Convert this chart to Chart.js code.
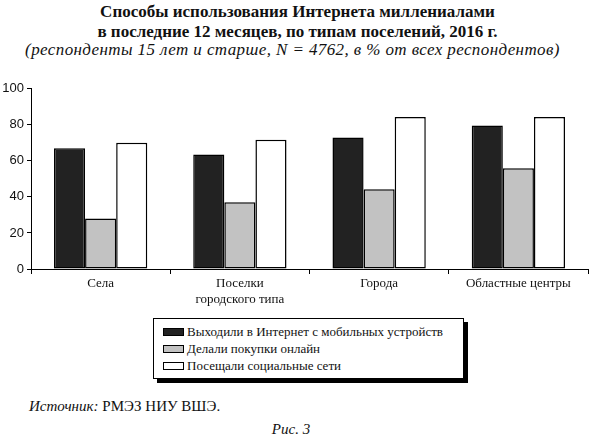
<!DOCTYPE html>
<html>
<head>
<meta charset="utf-8">
<script src="https://cdn.jsdelivr.net/npm/chart.js@4/dist/chart.umd.min.js"></script>
<style>
  html, body { margin: 0; padding: 0; background: #fff; }
  body { width: 595px; height: 446px; position: relative; overflow: hidden; font-family: "Liberation Serif", "DejaVu Serif", serif; color: #111; }
  .title { position: absolute; left: 0; top: 2px; width: 595px; text-align: center; font-weight: bold; font-size: 17px; line-height: 20px; }
  .subtitle { position: absolute; left: 0; top: 40px; width: 585px; text-align: center; font-style: italic; font-size: 17px; line-height: 20px; letter-spacing: 0.4px; }
  .chart-wrap { position: absolute; left: 0; top: 78px; width: 595px; height: 232px; }
  .legend { position: absolute; left: 153px; top: 318px; width: 311px; height: 61px; border: 1.5px solid #000; background: #fff; box-shadow: 4px 4px 0 #000; box-sizing: border-box; padding: 4px 0 0 9px; font-size: 13px; white-space: nowrap; }
  .legend-item { display: flex; align-items: center; height: 17px; }
  .legend-swatch { width: 19px; height: 6px; border: 1px solid #000; margin-right: 3px; flex: none; }
  .source { position: absolute; left: 29px; top: 398px; font-size: 15px; }
  .fig { position: absolute; left: 0; top: 421px; width: 582px; text-align: center; font-style: italic; font-size: 15px; }
</style>
</head>
<body>
<div class="title">Способы использования Интернета миллениалами<br>в последние 12 месяцев, по типам поселений, 2016 г.</div>
<div class="subtitle">(респонденты 15 лет и старше, N = 4762, в % от всех респондентов)</div>
<div class="chart-wrap"><canvas id="chart"></canvas></div>
<div class="legend" id="legend"></div>
<div class="source"><i>Источник:</i> РМЭЗ НИУ ВШЭ.</div>
<div class="fig">Рис. 3</div>
<script>
const categories = ['Села', ['Поселки', 'городского типа'], 'Города', 'Областные центры'];
const seriesNames = ['Выходили в Интернет с мобильных устройств', 'Делали покупки онлайн', 'Посещали социальные сети'];
const mobileValues = [67, 63.5, 73, 79.7];
const shoppingValues = [28, 37, 44.3, 55.9];
const socialValues = [70, 71.7, 84.3, 84.3];
const seriesColors = ['#222222', '#c2c2c2', '#ffffff'];
const yTicks = [0, 20, 40, 60, 80, 100];

const serif = "'Liberation Serif', 'DejaVu Serif', serif";
const sans = "'Liberation Sans', Arial, sans-serif";

const ctx = document.getElementById('chart').getContext('2d');
const chart = new Chart(ctx, {
  type: 'bar',
  data: {
    labels: categories,
    datasets: [mobileValues, shoppingValues, socialValues].map((values, i) => ({
      label: seriesNames[i],
      data: values,
      backgroundColor: seriesColors[i],
      borderColor: '#000',
      borderWidth: 1.5,
      borderSkipped: false,
      barPercentage: 1,
      categoryPercentage: 0.67
    }))
  },
  options: {
    responsive: true,
    maintainAspectRatio: false,
    animation: false,
    layout: { padding: { top: 9, right: 7, left: 0, bottom: 0 } },
    plugins: { legend: { display: false }, tooltip: { enabled: false } },
    scales: {
      x: {
        grid: { offset: true, drawOnChartArea: false, drawTicks: true, tickLength: 5, color: '#000' },
        border: { color: '#000', width: 1 },
        ticks: { color: '#111', font: { family: serif, size: 13 }, padding: 2, maxRotation: 0 },
        afterFit: s => { s.height = 41; }
      },
      y: {
        min: 0,
        max: 100,
        afterBuildTicks: s => { s.ticks = yTicks.map(v => ({ value: v })); },
        grid: { drawOnChartArea: false, drawTicks: true, tickLength: 4, color: '#000' },
        border: { color: '#000', width: 1 },
        ticks: { color: '#111', font: { family: sans, size: 13 }, padding: 3 },
        afterFit: s => { s.width = 31; }
      }
    }
  }
});

// легенда в рамке с тенью, как в оригинале
const legendEl = document.getElementById('legend');
chart.data.datasets.forEach(ds => {
  const item = document.createElement('div');
  item.className = 'legend-item';
  const sw = document.createElement('span');
  sw.className = 'legend-swatch';
  sw.style.background = ds.backgroundColor;
  const label = document.createElement('span');
  label.textContent = ds.label;
  item.appendChild(sw);
  item.appendChild(label);
  legendEl.appendChild(item);
});
</script>
</body>
</html>
